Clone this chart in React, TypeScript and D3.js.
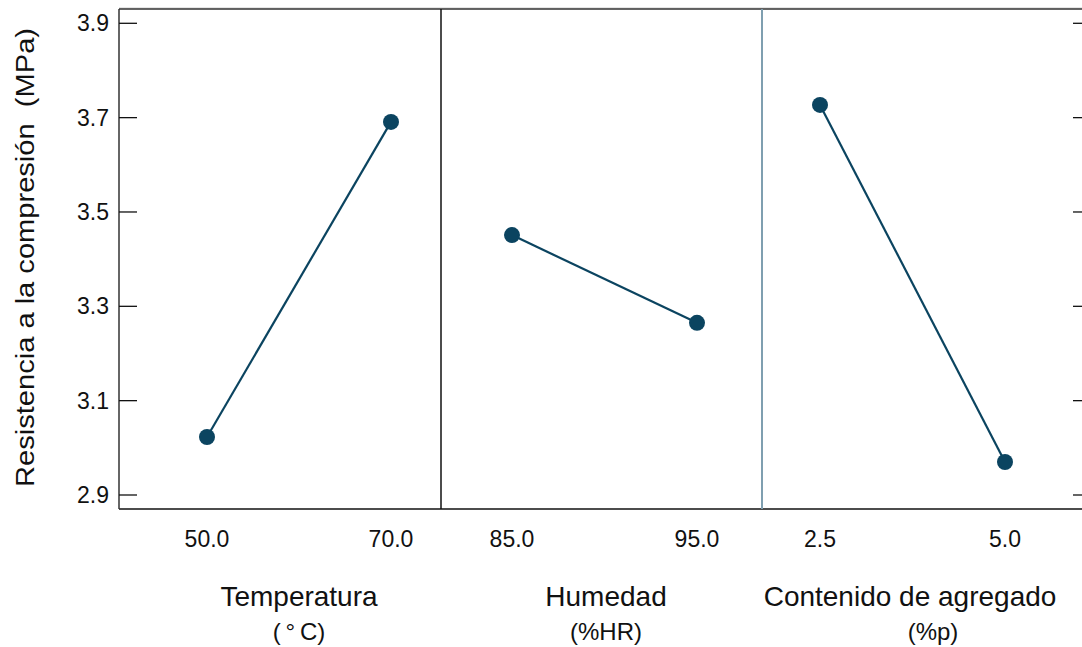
import * as d3 from "d3";
import React from "react";

// factor names, units, level labels and mean responses
const factors = ["Temperatura", "Humedad", "Contenido de agregado"];
const units = ["(\u2009°\u2009C)", "(%HR)", "(%p)"];
const levels = [
  ["50.0", "70.0"],
  ["85.0", "95.0"],
  ["2.5", "5.0"],
];
const means = [
  [3.023, 3.691],
  [3.451, 3.265],
  [3.727, 2.97],
];
const yTicks = [2.9, 3.1, 3.3, 3.5, 3.7, 3.9];
const yLabel = "Resistencia a la compresi\u00f3n\u00a0\u00a0(MPa)";

const W = 1082;
const H = 647;
const top = 9;
const bottom = 509;
const edges = [119, 441, 762, 1090];
const inset = [
  [88, 50],
  [71, 65],
  [58, 85],
];
const titleX = [299, 606, 910];
const unitX = [299, 606, 933];
const col = "#0b4460";
const font = "'Liberation Sans', Arial, sans-serif";

const App = () => {
  const y = d3.scaleLinear([2.9, 3.9], [495, 23.3]);
  const line = d3
    .line<[number, number]>()
    .x((d) => d[0])
    .y((d) => d[1]);

  return (
    <svg
      width={W}
      height={H}
      style={{ position: "absolute", left: 0, top: 0, background: "#fff" }}
      fontFamily={font}
    >
      {/* frame */}
      <line x1={edges[0]} x2={W} y1={top - 1} y2={top - 1} stroke="#ccc" strokeWidth={1} />
      <line x1={edges[0]} x2={W} y1={top} y2={top} stroke="#333" strokeWidth={1.3} />
      <line x1={edges[0]} x2={W} y1={bottom} y2={bottom} stroke="#111" strokeWidth={1.5} />
      <line x1={edges[0]} x2={edges[0]} y1={top} y2={bottom} stroke="#333" strokeWidth={1.5} />
      <line x1={edges[1]} x2={edges[1]} y1={top} y2={bottom} stroke="#111" strokeWidth={1.5} />
      <line x1={edges[2]} x2={edges[2]} y1={top} y2={bottom} stroke="#7f9fb0" strokeWidth={2} />

      {/* y ticks */}
      {yTicks.map((t) => (
        <g key={t}>
          <line x1={edges[0]} x2={edges[0] + 18} y1={y(t)} y2={y(t)} stroke="#111" strokeWidth={1.3} />
          <line x1={W - 9} x2={W} y1={y(t)} y2={y(t)} stroke="#111" strokeWidth={1.3} />
          <text
            x={109}
            y={y(t)}
            textAnchor="end"
            dominantBaseline="central"
            fontSize={23}
            fill="#111"
          >
            {t.toFixed(1)}
          </text>
        </g>
      ))}

      <text
        transform={`translate(34,${(28 + 487) / 2}) rotate(-90)`}
        textAnchor="middle"
        fontSize={25}
        fill="#111"
        textLength={459}
        lengthAdjust="spacingAndGlyphs"
      >
        {yLabel}
      </text>

      {factors.map((f, i) => {
        const x = d3.scaleLinear([0, 1], [edges[i] + inset[i][0], edges[i + 1] - inset[i][1]]);
        const pts: [number, number][] = means[i].map((m, j) => [x(j), y(m)]);
        return (
          <g key={f}>
            <path d={line(pts) ?? ""} fill="none" stroke={col} strokeWidth={2.2} />
            {pts.map((p, j) => (
              <circle key={j} cx={p[0]} cy={p[1]} r={8} fill={col} />
            ))}
            {levels[i].map((l, j) => (
              <text key={l} x={x(j)} y={547} textAnchor="middle" fontSize={23} fill="#111">
                {l}
              </text>
            ))}
            <text x={titleX[i]} y={606} textAnchor="middle" fontSize={28} fill="#111">
              {f}
            </text>
            <text x={unitX[i]} y={640} textAnchor="middle" fontSize={24} fill="#111">
              {units[i]}
            </text>
          </g>
        );
      })}
    </svg>
  );
};

export default App;
